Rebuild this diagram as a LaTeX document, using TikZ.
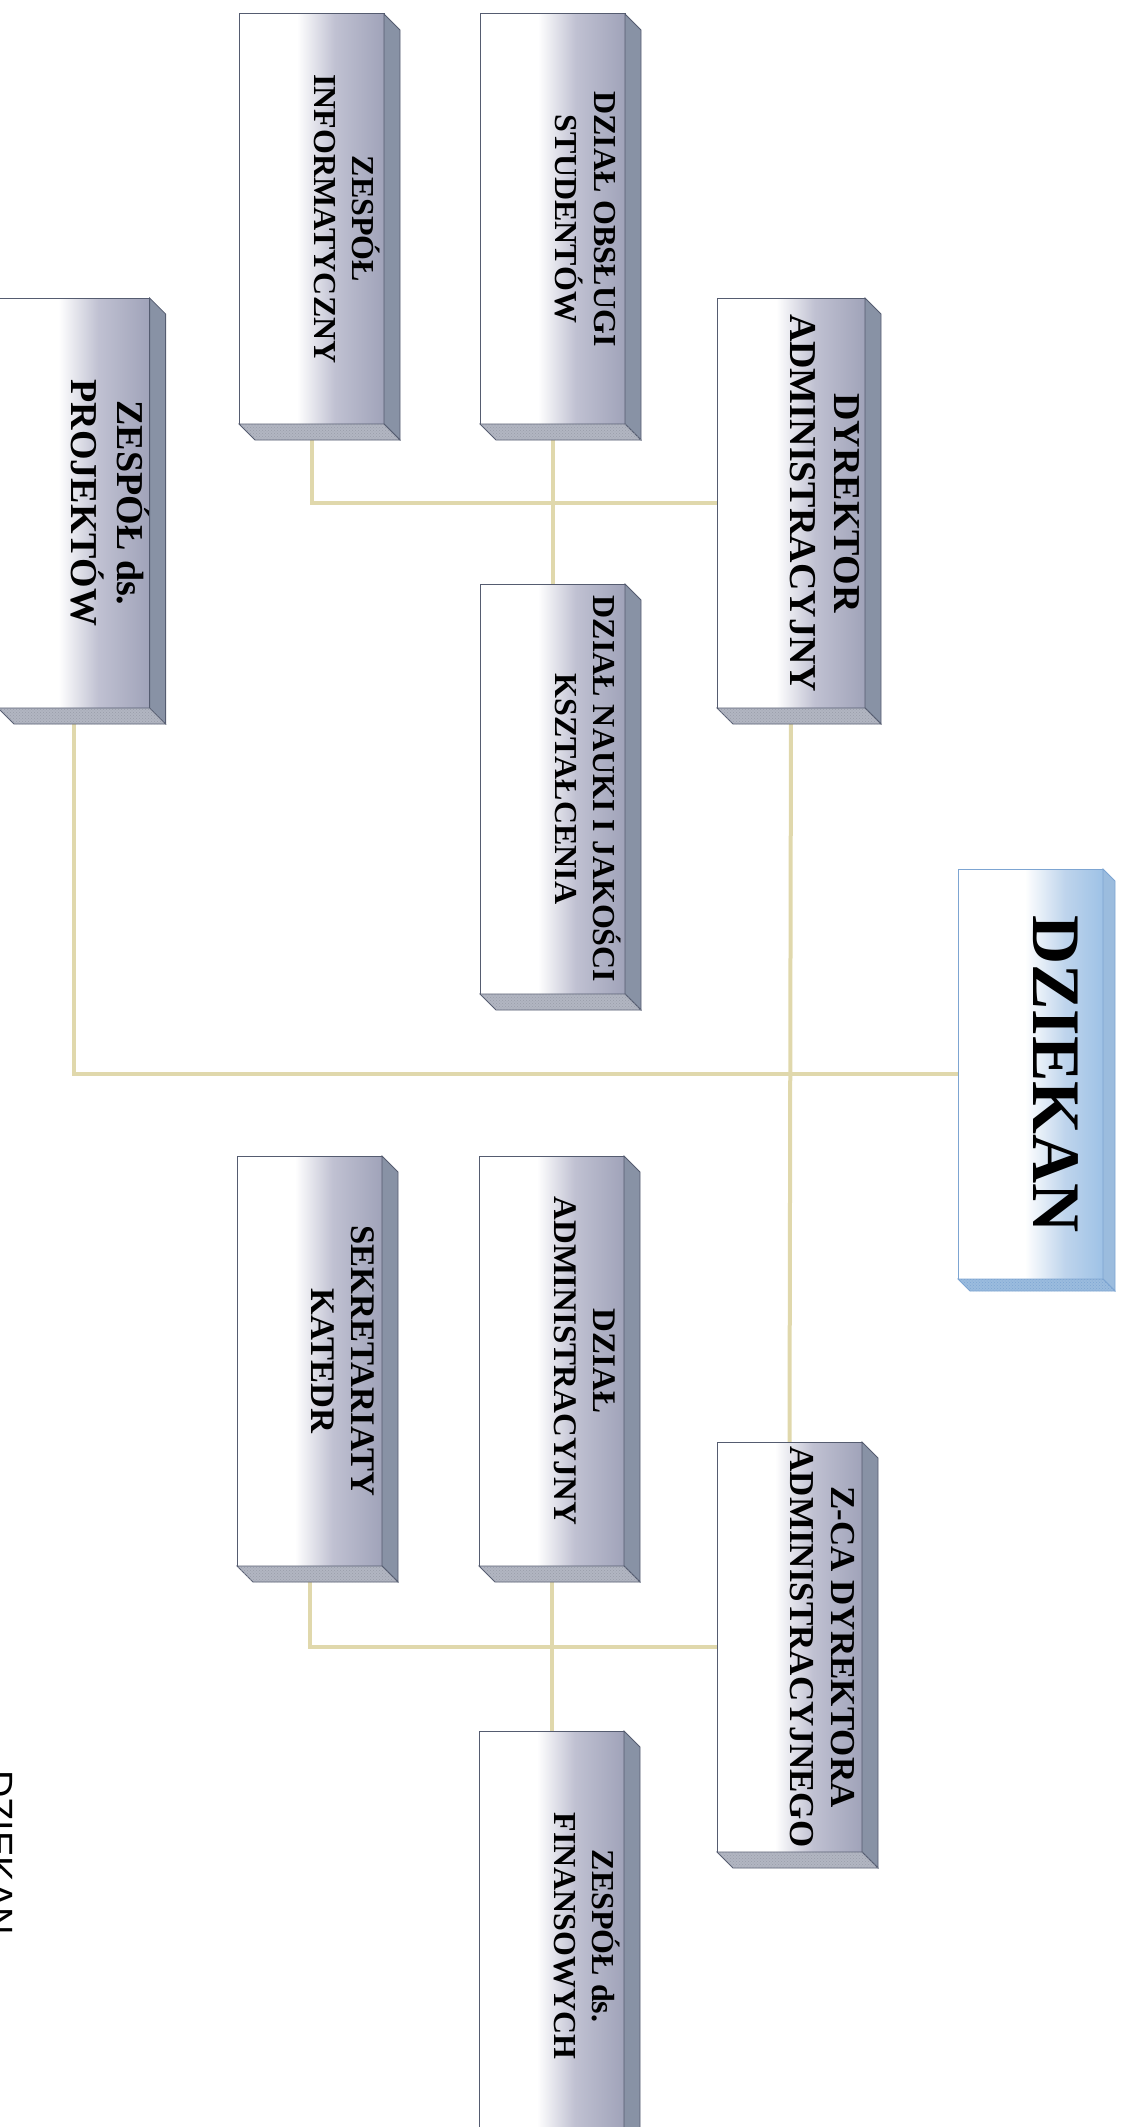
\documentclass[tikz,border=0pt]{standalone}
\usepackage{fontspec}
\setmainfont{Liberation Serif}
\newfontfamily\sansdz{Liberation Sans}
\usetikzlibrary{patterns,backgrounds}
\definecolor{shA}{RGB}{192,193,210}
\definecolor{shB}{RGB}{160,163,185}
\definecolor{sideC}{RGB}{136,146,165}
\definecolor{botC}{RGB}{178,182,194}
\definecolor{edgeC}{RGB}{85,92,112}
\definecolor{blA}{RGB}{190,212,236}
\definecolor{blB}{RGB}{158,194,230}
\definecolor{blSide}{RGB}{155,188,222}
\definecolor{blEdge}{RGB}{125,165,210}
\definecolor{lineC}{RGB}{224,216,172}
\pgfdeclarehorizontalshading{grayface}{100bp}{color(0bp)=(white); color(25bp)=(white); color(45bp)=(white); color(58bp)=(shA); color(75bp)=(shB); color(100bp)=(shB)}
\pgfdeclarehorizontalshading{blueface}{100bp}{color(0bp)=(white); color(25bp)=(white); color(48bp)=(white); color(62bp)=(blA); color(75bp)=(blB); color(100bp)=(blB)}
\tikzset{
  dept/.style={draw=edgeC, line width=1pt, shading=grayface, minimum width=145pt,
    minimum height=410pt, inner sep=0pt, outer sep=0pt, anchor=north west,
    font=\fontsize{32}{38}\selectfont\bfseries},
  fs/.style 2 args={font=\fontsize{#1}{#2}\selectfont\bfseries},
  deanbox/.style={dept, draw=blEdge, shading=blueface,
    font=\fontsize{68}{80}\selectfont\bfseries},
  conn/.style={draw=lineC, line width=4pt},
  sideface/.style={fill=sideC, draw=edgeC, line width=0.8pt},
  botface/.style={fill=botC, draw=edgeC, line width=0.8pt},
}
\newcommand\faces[4]{% node, side style, bottom style, pattern colour
  \path[#2] (#1.north east) -- ++(16,16) -- ([shift={(16,16)}]#1.south east) -- (#1.south east) -- cycle;
  \path[#3] (#1.south west) -- (#1.south east) -- ([shift={(16,16)}]#1.south east) -- ([shift={(16,16)}]#1.south west) -- cycle;
  \fill[pattern=crosshatch dots, pattern color=#4] (#1.south west) -- (#1.south east) -- ([shift={(16,16)}]#1.south east) -- ([shift={(16,16)}]#1.south west) -- cycle;
}
\newcommand\lab[1]{\hspace*{60pt}\rotatebox{-90}{\begin{tabular}{@{}c@{}}#1\end{tabular}}}
\begin{document}
\begin{tikzpicture}[x=1pt,y=-1pt]
\useasboundingbox (0,0) rectangle (1128,2127);
\clip (0,0) rectangle (1128,2127);
% boxes
\node[dept] (info) at (239,14) {\lab{ZESPÓŁ\\INFORMATYCZNY}};
\node[dept] (obs) at (480,14) {\lab{DZIAŁ OBSŁUGI\\STUDENTÓW}};
\node[dept, fs={38}{44}] (dyr) at (717,298) {\lab{DYREKTOR\\ADMINISTRACYJNY}};
\node[dept, fs={38}{44}] (proj) at (-2,298) {\lab{ZESPÓŁ ds.\\PROJEKTÓW}};
\node[dept] (nauki) at (480,584) {\lab{DZIAŁ NAUKI I JAKOŚCI\\KSZTAŁCENIA}};
\node[deanbox] (dean) at (958,869) {\hspace*{50pt}\rotatebox{-90}{DZIEKAN}};
\node[dept, fs={34.5}{40}] (sekr) at (237,1156) {\lab{SEKRETARIATY\\KATEDR}};
\node[dept, fs={33}{39}] (dadm) at (479,1156) {\lab{DZIAŁ\\ADMINISTRACYJNY}};
\node[dept, fs={35}{41}] (zca) at (717,1442) {\lab{Z-CA DYREKTORA\\ADMINISTRACYJNEGO}};
\node[dept] (fin) at (479,1731) {\lab{ZESPÓŁ ds.\\FINANSOWYCH}};
% 3D faces
\foreach \n in {info,obs,dyr,proj,nauki,sekr,dadm,zca,fin}{\faces{\n}{sideface}{botface}{edgeC!60}}
\path[fill=blSide, draw=blEdge, line width=0.8pt] (dean.north east) -- ++(12,12) -- ([shift={(12,12)}]dean.south east) -- (dean.south east) -- cycle;
\path[fill=blSide, draw=blEdge, line width=0.8pt] (dean.south west) -- (dean.south east) -- ([shift={(12,12)}]dean.south east) -- ([shift={(12,12)}]dean.south west) -- cycle;
\fill[pattern=crosshatch dots, pattern color=blEdge] (dean.south west) -- (dean.south east) -- ([shift={(12,12)}]dean.south east) -- ([shift={(12,12)}]dean.south west) -- cycle;
% caption cut by the left edge
\node[inner sep=0pt, anchor=north east, font=\sansdz\fontsize{38}{42}\selectfont] (cap) at (13,1770) {\rotatebox{-90}{DZIEKAN}};
% connectors
\begin{scope}[on background layer]
\draw[conn] (proj.south) |- (dean.west);
\draw[conn] (dyr.south) -- (zca.north);
\draw[conn] (info.south) |- (dyr.west);
\draw[conn] (obs.south) -- (nauki.north);
\draw[conn] (sekr.south) |- (zca.west);
\draw[conn] (dadm.south) -- (fin.north);
\end{scope}
\end{tikzpicture}
\end{document}
